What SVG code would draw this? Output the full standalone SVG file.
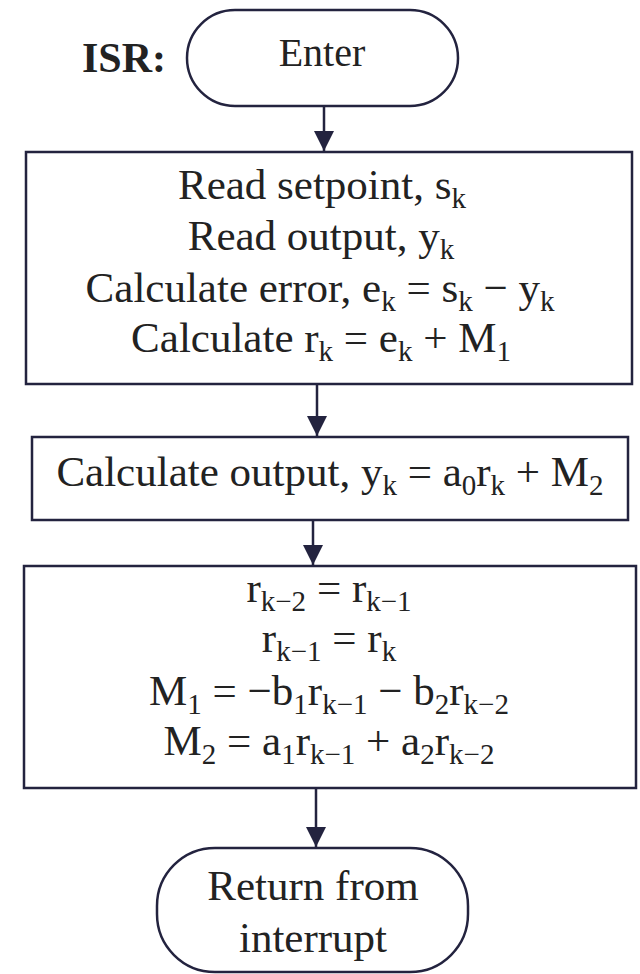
<svg xmlns="http://www.w3.org/2000/svg" width="640" height="974" viewBox="0 0 640 974">
<style>
.s{fill:#fff;stroke:#23233f;stroke-width:2.5}
.t{font-family:"Liberation Serif","Times New Roman",serif;font-size:43px;fill:#222;text-anchor:middle}
.b{font-weight:bold;text-anchor:start;font-size:42px}
.c{stroke:#23233f;stroke-width:2.5;fill:none}
.sb{font-size:29px}
</style>
<defs>
<marker id="a" viewBox="0 0 20 22" refX="20" refY="11" markerWidth="20" markerHeight="22" orient="auto" markerUnits="userSpaceOnUse">
<path d="M0,1 L20,11 L0,21 z" fill="#23233f"/>
</marker>
</defs>
<g id="isr-label"><text class="t b" x="82" y="72">ISR:</text></g>
<g id="enter">
<rect class="s" x="187" y="10" width="271" height="96" rx="48" ry="48"/>
<text class="t" x="322" y="66" style="font-size:40px">Enter</text>
</g>
<g id="box1">
<rect class="s" x="26" y="152" width="606" height="232"/>
<text class="t" x="322" y="199">Read setpoint, s<tspan class="sb" dy="9">k</tspan></text>
<text class="t" x="321" y="250">Read output, y<tspan class="sb" dy="9">k</tspan></text>
<text class="t" x="320" y="302">Calculate error, e<tspan class="sb" dy="9">k</tspan><tspan dy="-9"> = s</tspan><tspan class="sb" dy="9">k</tspan><tspan dy="-9"> − y</tspan><tspan class="sb" dy="9">k</tspan></text>
<text class="t" x="321" y="352">Calculate r<tspan class="sb" dy="9">k</tspan><tspan dy="-9"> = e</tspan><tspan class="sb" dy="9">k</tspan><tspan dy="-9"> + M</tspan><tspan class="sb" dy="9">1</tspan></text>
</g>
<g id="box2">
<rect class="s" x="32" y="437" width="596" height="83"/>
<text class="t" x="330" y="486">Calculate output, y<tspan class="sb" dy="9">k</tspan><tspan dy="-9"> = a</tspan><tspan class="sb" dy="9">0</tspan><tspan dy="-9">r</tspan><tspan class="sb" dy="9">k</tspan><tspan dy="-9"> + M</tspan><tspan class="sb" dy="9">2</tspan></text>
</g>
<g id="box3">
<rect class="s" x="24" y="566" width="612" height="222"/>
<text class="t" x="329" y="602">r<tspan class="sb" dy="9">k−2</tspan><tspan dy="-9"> = r</tspan><tspan class="sb" dy="9">k−1</tspan></text>
<text class="t" x="329" y="652">r<tspan class="sb" dy="9">k−1</tspan><tspan dy="-9"> = r</tspan><tspan class="sb" dy="9">k</tspan></text>
<text class="t" x="329" y="705">M<tspan class="sb" dy="9">1</tspan><tspan dy="-9"> = −b</tspan><tspan class="sb" dy="9">1</tspan><tspan dy="-9">r</tspan><tspan class="sb" dy="9">k−1</tspan><tspan dy="-9"> − b</tspan><tspan class="sb" dy="9">2</tspan><tspan dy="-9">r</tspan><tspan class="sb" dy="9">k−2</tspan></text>
<text class="t" x="329" y="755">M<tspan class="sb" dy="9">2</tspan><tspan dy="-9"> = a</tspan><tspan class="sb" dy="9">1</tspan><tspan dy="-9">r</tspan><tspan class="sb" dy="9">k−1</tspan><tspan dy="-9"> + a</tspan><tspan class="sb" dy="9">2</tspan><tspan dy="-9">r</tspan><tspan class="sb" dy="9">k−2</tspan></text>
</g>
<g id="return">
<rect class="s" x="157" y="848" width="311" height="124" rx="58" ry="58"/>
<text class="t" x="313" y="900">Return from</text>
<text class="t" x="313" y="952">interrupt</text>
</g>
<g id="connectors">
<line class="c" x1="324" y1="106" x2="324" y2="151" marker-end="url(#a)"/>
<line class="c" x1="317" y1="384" x2="317" y2="436" marker-end="url(#a)"/>
<line class="c" x1="313" y1="520" x2="313" y2="565" marker-end="url(#a)"/>
<line class="c" x1="316" y1="788" x2="316" y2="847" marker-end="url(#a)"/>
</g>
</svg>
